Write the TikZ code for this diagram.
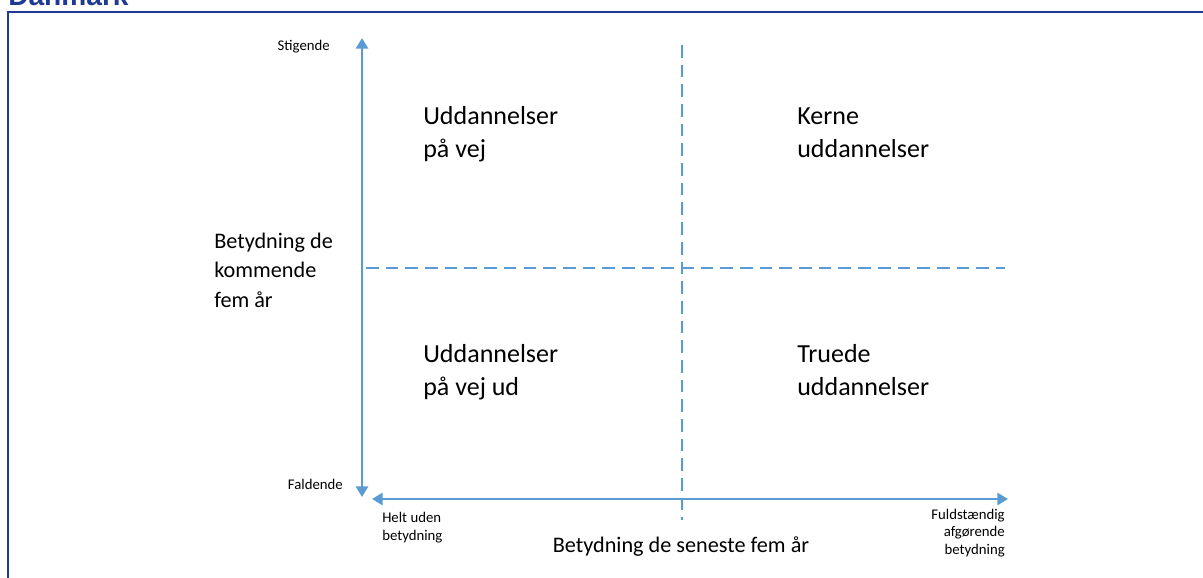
\documentclass[tikz,border=0pt]{standalone}
\usepackage{fontspec}
\setmainfont{Carlito}
\newfontfamily\headfont{Liberation Sans}
\usetikzlibrary{arrows.meta}
\definecolor{axisblue}{HTML}{5B9BD5}
\definecolor{framenavy}{HTML}{1F3A93}
\tikzset{
	axisline/.style={axisblue, line width=2.1pt, {Triangle[length=7.5pt,width=8.5pt]}-{Triangle[length=7.5pt,width=8.5pt]}},
	splitline/.style={axisblue, line width=2pt, dash pattern=on 9pt off 5pt},
	quadlabel/.style={anchor=base west, inner sep=0, align=left, font=\fontsize{18.5}{22.8}\selectfont},
	axislabel/.style={inner sep=0, align=left, font=\fontsize{15.8}{20.8}\selectfont},
	endlabel/.style={inner sep=0, font=\fontsize{10.5}{12.2}\selectfont}
}
\begin{document}
\begin{tikzpicture}[x=0.025cm, y=-0.025cm]
	\useasboundingbox (0,0) rectangle (1203,578);
	% frame and heading
	\draw[framenavy, line width=1.5pt] (8,578)--(8,12)--(1203,12);
	\node[anchor=base west, inner sep=0, text=framenavy, font=\headfont\bfseries\fontsize{20}{24}\selectfont] (heading) at (8,6) {Danmark};
	% axes
	\coordinate (ytop) at (362,38);
	\coordinate (ybot) at (362,497);
	\coordinate (xleft) at (372,499);
	\coordinate (xright) at (1008,499);
	\draw[axisline] (ybot)--(ytop);
	\draw[axisline] (xleft)--(xright);
	% quadrant split
	\coordinate (vtop) at (682,45);
	\coordinate (vbot) at (682,520);
	\coordinate (hleft) at (366,268);
	\coordinate (hright) at (1005,268);
	\draw[splitline] (vtop)--(vbot);
	\draw[splitline] (hleft)--(hright);
	% quadrants (base = last line)
	\node[quadlabel] (paavej) at (423,157) {Uddannelser\\på vej};
	\node[quadlabel] (kerne) at (797,157) {Kerne\\uddannelser};
	\node[quadlabel] (paavejud) at (423,395) {Uddannelser\\på vej ud};
	\node[quadlabel] (truede) at (797,395) {Truede\\uddannelser};
	% axis labels
	\node[axislabel, anchor=base west] (ylabel) at (214,307) {Betydning de\\kommende\\fem år};
	\node[axislabel, anchor=base] (xlabel) at (681,552) {Betydning de seneste fem år};
	\node[endlabel, anchor=base east] (stig) at (330,51) {Stigende};
	\node[endlabel, anchor=base east] (fald) at (343,489) {Faldende};
	\node[endlabel, anchor=base west, align=left] (helt) at (382,540) {Helt uden\\betydning};
	\node[endlabel, anchor=base east, align=right] (fuld) at (1005,554) {Fuldstændig\\afgørende\\betydning};
\end{tikzpicture}
\end{document}
